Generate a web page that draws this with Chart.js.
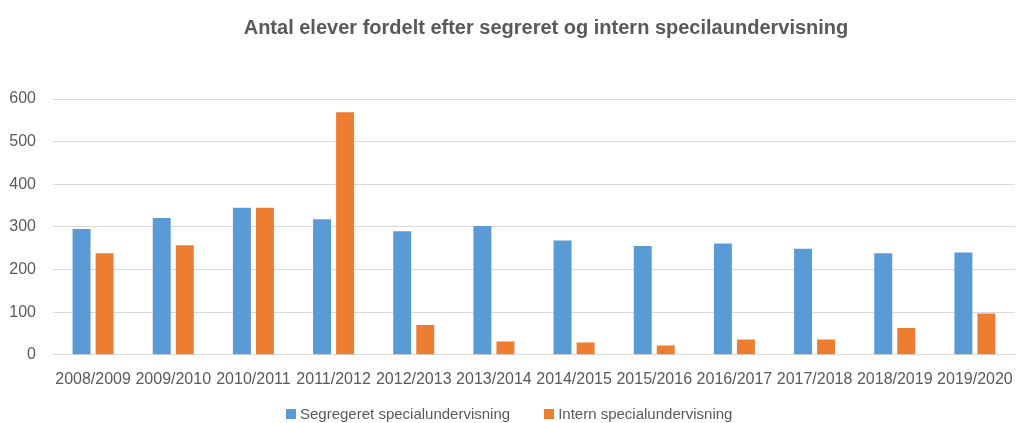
<!DOCTYPE html>
<html>
<head>
<meta charset="utf-8">
<script src="https://cdn.jsdelivr.net/npm/chart.js@4"></script>
<style>
  html, body { margin: 0; padding: 0; background: #fff; }
  #wrap { position: relative; width: 1019px; height: 423px; }
  #title { position: absolute; left: 0; width: 1092px; top: 16px; text-align: center; font: bold 20px "Liberation Sans", sans-serif; color: #595959; white-space: nowrap; }
  #legend { position: absolute; left: 286px; top: 405px; font: 15px "Liberation Sans", sans-serif; color: #595959; display: flex; align-items: center; white-space: nowrap; }
  #legend span.box { display: inline-block; width: 10px; height: 10px; margin-right: 4px; }
  #legend span.item { display: flex; align-items: center; margin-right: 34px; }
</style>
</head>
<body>
<div id="wrap">
  <canvas id="chart"></canvas>
  <div id="title">Antal elever fordelt efter segreret og intern specilaundervisning</div>
  <div id="legend"></div>
</div>
<script>
const years = ['2008/2009', '2009/2010', '2010/2011', '2011/2012', '2012/2013', '2013/2014',
  '2014/2015', '2015/2016', '2016/2017', '2017/2018', '2018/2019', '2019/2020']
const segregeret = [295, 321, 345, 318, 290, 302, 268, 255, 261, 249, 238, 240]
const intern = [238, 257, 345, 569, 70, 31, 29, 22, 36, 36, 63, 97]
const yTicks = [0, 100, 200, 300, 400, 500, 600]

const grey = '#595959'
const ctx = document.getElementById('chart').getContext('2d')

const chart = new Chart(ctx, {
  type: 'bar',
  data: {
    labels: years,
    datasets: [
      { label: 'Segregeret specialundervisning', data: segregeret, backgroundColor: '#5B9BD5' },
      { label: 'Intern specialundervisning', data: intern, backgroundColor: '#ED7D31' }
    ]
  },
  options: {
    responsive: true,
    maintainAspectRatio: false,
    animation: false,
    categoryPercentage: 0.575,
    barPercentage: 0.78,
    layout: { padding: { left: 4, right: 4, top: 99, bottom: 27 } },
    plugins: {
      legend: { display: false },
      tooltip: { enabled: false }
    },
    scales: {
      x: {
        afterFit: s => { s.paddingLeft = 0; s.paddingRight = 0 },
        grid: { display: false },
        border: { color: '#D9D9D9' },
        ticks: {
          color: grey,
          maxRotation: 0,
          autoSkip: false,
          padding: 7,
          font: { family: '"Liberation Sans", sans-serif', size: 16 }
        }
      },
      y: {
        min: 0,
        max: 600,
        afterBuildTicks: s => { s.ticks = yTicks.map(v => ({ value: v })) },
        afterFit: s => { s.width = 49 },
        grid: { color: '#D9D9D9', lineWidth: 1, drawTicks: false },
        border: { display: false },
        ticks: {
          color: grey,
          padding: 17,
          font: { family: '"Liberation Sans", sans-serif', size: 16 }
        }
      }
    }
  }
})

// legend as html, placed like the original
const legend = document.getElementById('legend')
chart.data.datasets.forEach(ds => {
  const item = document.createElement('span')
  item.className = 'item'
  item.innerHTML = `<span class="box" style="background:${ds.backgroundColor}"></span>${ds.label}`
  legend.appendChild(item)
})
</script>
</body>
</html>
